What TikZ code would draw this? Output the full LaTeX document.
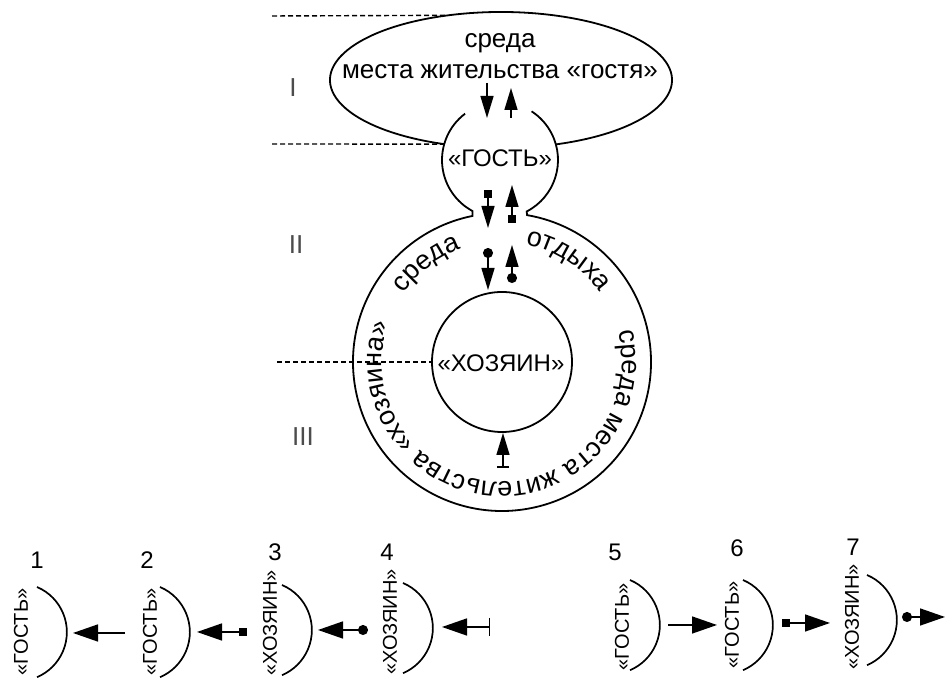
\documentclass[tikz,border=0pt]{standalone}
\usepackage{fontspec}
\setmainfont{Liberation Sans}
\usetikzlibrary{arrows.meta, decorations.text}

\newcommand{\envfont}{\fontsize{13}{15.5}\selectfont}
\newcommand{\ringfont}{\fontsize{13.5}{16}\selectfont}
\newcommand{\rolefont}{\fontsize{12}{14}\selectfont}
\newcommand{\tagfont}{\fontsize{10}{12}\selectfont}

\tikzset{
  outline/.style={line width=0.9pt},
  bowl/.style={line width=0.85pt},
  dashline/.style={line width=0.7pt, dash pattern=on 2.5pt off 1.5pt},
  flow/.style={line width=0.75pt},
  arrowhead/.tip={Triangle[length=11pt,width=6.5pt]},
  bighead/.tip={Triangle[length=12.5pt,width=8.5pt]},
  boxtail/.tip={Square[length=4pt,width=4pt]},
  dottail/.tip={Circle[length=5pt]},
  bartail/.tip={Bar[width=6pt]},
  longbar/.tip={Bar[width=9pt]},
  role/.style={font=\rolefont, inner sep=0pt},
  vlabel/.style={font=\tagfont, rotate=90, inner sep=0pt},
  numlabel/.style={font=\fontsize{12}{14}\selectfont, inner sep=0pt},
  roman/.style={font=\fontsize{13}{15}\selectfont, text=black!70, inner sep=0pt},
  ringtext/.style={decorate, decoration={text along path, text align=center, text={|\ringfont|#1}}}
}

\begin{document}
\begin{tikzpicture}[x=0.5pt, y=0.5pt]
\useasboundingbox (0,0) rectangle (949,684);

% centres
\coordinate (ec) at (501,604);
\coordinate (gc) at (500,524);
\coordinate (hc) at (502,322);

% ellipse, guest circle and the big ring
\draw[outline] ([shift={(288.7:171 and 68)}]ec) arc[start angle=288.7, end angle=610.6, x radius=171, y radius=68];
\draw[outline] ([shift={(127:58)}]gc) arc[start angle=127, end angle=241.7, radius=58]
  -- ([shift={(101.4:149)}]hc) arc[start angle=101.4, end angle=440.3, radius=149]
  -- ([shift={(297.4:58)}]gc) arc[start angle=297.4, end angle=417, radius=58];
\draw[outline] (hc) circle[radius=70];

% levels
\draw[dashline] (272,668) -- ([shift={(108:171 and 68)}]ec);
\draw[dashline] (272,540) -- ([shift={(250.6:171 and 68)}]ec);
\draw[dashline] (277,322) -- ([shift={(180:70)}]hc);
\node[roman] (r1) at (293,596) {I};
\node[roman] (r2) at (296,439) {II};
\node[roman] (r3) at (303,247) {III};

% texts
\node[font=\envfont, align=center, inner sep=0pt] (guestenv) at (500,628) {среда\\места жительства «гостя»};
\node[role] (guest) at (500,526) {«ГОСТЬ»};
\node[role] (host) at (501,321) {«ХОЗЯИН»};
\path[ringtext={среда}] ([shift={(150:120)}]hc) arc[start angle=150, end angle=105, radius=120];
\path[ringtext={отдыха}] ([shift={(80:120)}]hc) arc[start angle=80, end angle=34, radius=120];
\path[ringtext={среда места жительства «хозяина»}] ([shift={(25:120)}]hc) arc[start angle=25, end angle=-209, radius=120];

% flows in the scheme
\coordinate (d1) at (487,601); \coordinate (d2) at (487,566);
\coordinate (u1) at (511,566); \coordinate (u2) at (511,596);
\coordinate (d3) at (488,494); \coordinate (d4) at (488,456);
\coordinate (u3) at (512,461); \coordinate (u4) at (512,499);
\coordinate (d5) at (488,436); \coordinate (d6) at (488,394);
\coordinate (u5) at (512,401); \coordinate (u6) at (512,439);
\coordinate (u7) at (503,216); \coordinate (u8) at (503,251);
\draw[flow, -arrowhead] (d1) -- (d2);
\draw[flow, -arrowhead] (u1) -- (u2);
\draw[flow, boxtail-arrowhead] (d3) -- (d4);
\draw[flow, boxtail-arrowhead] (u3) -- (u4);
\draw[flow, dottail-arrowhead] (d5) -- (d6);
\draw[flow, dottail-arrowhead] (u5) -- (u6);
\draw[flow, bartail-arrowhead] (u7) -- (u8);

% row of cases
\node[numlabel] (n1) at (37,124) {1};
\node[numlabel] (n2) at (147,124) {2};
\node[numlabel] (n3) at (275,132) {3};
\node[numlabel] (n4) at (387,132) {4};
\node[numlabel] (n5) at (615,132) {5};
\node[numlabel] (n6) at (737,136) {6};
\node[numlabel] (n7) at (853,137) {7};
\node[vlabel] (v1) at (21,52) {«ГОСТЬ»};
\node[vlabel] (v2) at (150,52) {«ГОСТЬ»};
\node[vlabel] (v3) at (270,61) {«ХОЗЯИН»};
\node[vlabel] (v4) at (390,62) {«ХОЗЯИН»};
\node[vlabel] (v5) at (622,57) {«ГОСТЬ»};
\node[vlabel] (v6) at (732,59) {«ГОСТЬ»};
\node[vlabel] (v7) at (852,67) {«ХОЗЯИН»};
\foreach \bx/\by in {37/97, 160/97, 282/99, 403/101, 630/104, 743/104, 867/109}
  \draw[bowl] (\bx,\by) arc[start angle=67, end angle=-67, radius=49];

\coordinate (s1) at (125,51); \coordinate (e1) at (73,51);
\coordinate (s2) at (247,52); \coordinate (e2) at (197,52);
\coordinate (s3) at (368,54); \coordinate (e3) at (318,54);
\coordinate (s4) at (490,57); \coordinate (e4) at (442,57);
\coordinate (s5) at (668,59); \coordinate (e5) at (717,59);
\coordinate (s6) at (782,61); \coordinate (e6) at (830,61);
\coordinate (s7) at (902,67); \coordinate (e7) at (945,67);
\draw[flow, -bighead] (s1) -- (e1);
\draw[flow, boxtail-bighead] (s2) -- (e2);
\draw[flow, dottail-bighead] (s3) -- (e3);
\draw[flow, longbar-bighead] (s4) -- (e4);
\draw[flow, -bighead] (s5) -- (e5);
\draw[flow, boxtail-bighead] (s6) -- (e6);
\draw[flow, dottail-bighead] (s7) -- (e7);
\end{tikzpicture}
\end{document}
